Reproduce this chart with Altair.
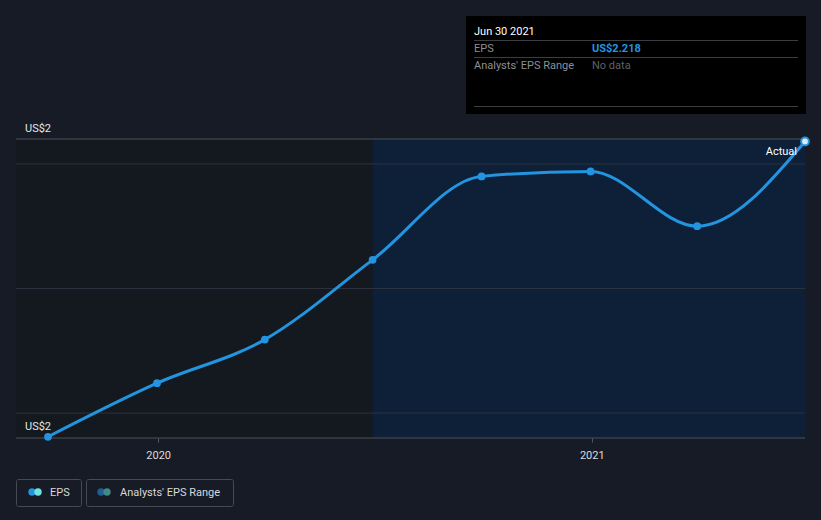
import altair as alt
import pandas as pd

# ---- data ----
dates = ["2019-09-30", "2019-12-31", "2020-03-31", "2020-06-30",
         "2020-09-30", "2020-12-31", "2021-03-31", "2021-06-30"]
eps = [1.981, 2.024, 2.059, 2.123, 2.190, 2.194, 2.150, 2.218]
y_label_values = [2.22, 1.981]
y_labels = ["US$2", "US$2"]
grid_values = [2.0, 2.1, 2.2]
forecast_start = "2020-06-30"
domain_start = "2019-09-03"
domain_end = "2021-06-30"

df = pd.DataFrame({"date": pd.to_datetime(dates), "eps": eps})
last = df.tail(1)

W, H = 789, 299
L, T = 16, 139
BG = "#161b26"
FONT = "Roboto"
BLUE = "#2394df"

xscale = alt.Scale(domain=[domain_start, domain_end], type="utc")
yscale = alt.Scale(domain=[1.980, 2.22], zero=False, nice=False)

one = alt.Data(values=[{"a": 1}])

def px(x):
    return alt.value(x - L)

def py(y):
    return alt.value(y - T)

# shaded regions
regions = pd.DataFrame({
    "start": pd.to_datetime([domain_start, forecast_start]),
    "end": pd.to_datetime([forecast_start, domain_end]),
    "col": ["#14181f", "#0e1f38"],
})
region_layer = alt.Chart(regions).mark_rect().encode(
    x=alt.X("start:T", scale=xscale, axis=alt.Axis(
        values=[alt.DateTime(year=2020, month=1, date=1, utc=True),
                alt.DateTime(year=2021, month=1, date=1, utc=True)],
        format="%Y", labelColor="#dddddd", labelFont=FONT, labelFontSize=11,
        tickColor="#555a64", tickSize=4, labelPadding=7, domain=False,
        grid=False, title=None)),
    x2="end:T",
    y=alt.value(0),
    y2=alt.value(H),
    color=alt.Color("col:N", scale=None),
)

grid_df = pd.DataFrame({"g": grid_values})
grid_layer = alt.Chart(grid_df).mark_rule(color="#2c323d", strokeWidth=1).encode(
    y=alt.Y("g:Q", scale=yscale, axis=None),
    x=alt.value(0), x2=alt.value(W),
)

border_layer = alt.Chart(one).mark_rule(color="#4b505a", strokeWidth=1).encode(
    y=alt.value(0), x=alt.value(0), x2=alt.value(W)
) + alt.Chart(one).mark_rule(color="#4b505a", strokeWidth=1).encode(
    y=alt.value(H), x=alt.value(0), x2=alt.value(W)
)

ylab_df = pd.DataFrame({"v": y_label_values, "t": y_labels})
ylab_layer = alt.Chart(ylab_df).mark_text(
    align="left", baseline="bottom", dx=0, dy=-5, color="#e6e6e6",
    font=FONT, fontSize=11).encode(
    y=alt.Y("v:Q", scale=yscale, axis=None),
    x=alt.value(9),
    text="t:N",
)

line = alt.Chart(df).mark_line(color=BLUE, strokeWidth=3, interpolate="monotone").encode(
    x=alt.X("date:T", scale=xscale),
    y=alt.Y("eps:Q", scale=yscale),
)
pts = alt.Chart(df.iloc[:-1]).mark_circle(color=BLUE, size=60, opacity=1).encode(
    x=alt.X("date:T", scale=xscale),
    y=alt.Y("eps:Q", scale=yscale),
)
last_pt = alt.Chart(last).mark_point(filled=True, fill="#d8ecff", stroke=BLUE,
                                      strokeWidth=2, size=60, opacity=1).encode(
    x=alt.X("date:T", scale=xscale),
    y=alt.Y("eps:Q", scale=yscale),
)

actual = alt.Chart(one).mark_text(text="Actual", align="right", baseline="middle",
                                  color="#ffffff", font=FONT, fontSize=11).encode(
    x=px(797), y=py(151.5))

def text(t, x, y, color, bold=False, size=11):
    return alt.Chart(one).mark_text(text=t, align="left", baseline="middle",
                                    color=color, font=FONT, fontSize=size,
                                    fontWeight="bold" if bold else "normal").encode(
        x=px(x), y=py(y))

def hline(x1, x2, y, color):
    return alt.Chart(one).mark_rule(color=color, strokeWidth=1).encode(
        x=px(x1), x2=px(x2), y=py(y))

tip = alt.Chart(one).mark_rect(color="#000000").encode(
    x=px(466), x2=px(806), y=py(16), y2=py(114))
tip_layers = [
    tip,
    text("Jun 30 2021", 474, 31.5, "#ffffff"),
    hline(474, 798, 40.5, "#3a3d42"),
    text("EPS", 474, 48.5, "#8c8f94"),
    text("US$2.218", 592, 48.5, BLUE, bold=True),
    hline(474, 798, 57.5, "#3a3d42"),
    text("Analysts' EPS Range", 474, 65.5, "#8c8f94"),
    text("No data", 592, 65.5, "#5e6166"),
    hline(474, 798, 106.5, "#3a3d42"),
]

def box(x1, x2, y1, y2):
    return alt.Chart(one).mark_rect(fill=BG, stroke="#464a52", strokeWidth=1,
                                    cornerRadius=2).encode(
        x=px(x1), x2=px(x2), y=py(y1), y2=py(y2))

def dot(x, y, color):
    return alt.Chart(one).mark_circle(color=color, size=55, opacity=1).encode(
        x=px(x), y=py(y))

legend_layers = [
    box(16.5, 81.5, 479.5, 506.5),
    dot(32, 492, BLUE), dot(38, 492, "#6fe3dc"),
    text("EPS", 50, 493, "#d9d9d9"),
    box(86.5, 233.5, 479.5, 506.5),
    dot(101, 492, "#1f5f93"), dot(107, 492, "#3f8a84"),
    text("Analysts' EPS Range", 120, 493, "#d9d9d9"),
]

chart = alt.layer(
    region_layer, grid_layer, border_layer, ylab_layer, line, pts, last_pt,
    actual, *tip_layers, *legend_layers,
).properties(
    width=W, height=H,
    background=BG,
    padding={"left": L, "top": T, "right": 821 - L - W, "bottom": 520 - T - H},
    autosize=alt.AutoSizeParams(type="none"),
).configure_view(stroke=None).configure_axis(labelFont=FONT)

chart.save("out.html", embed_options={"renderer": "svg", "actions": False})
